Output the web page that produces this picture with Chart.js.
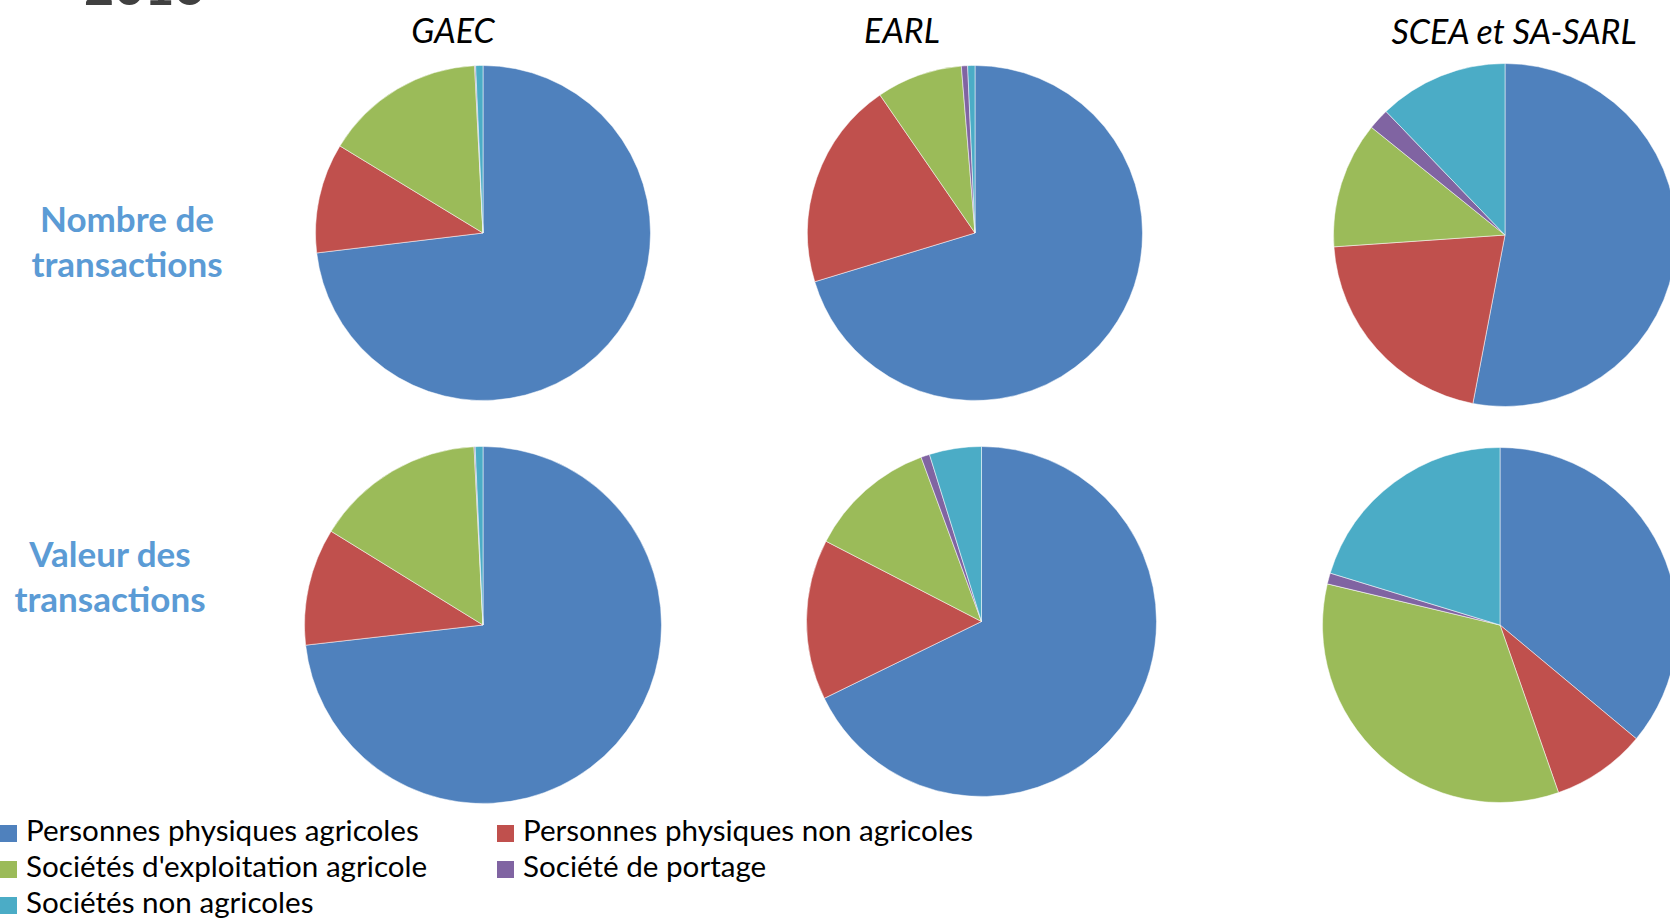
<!DOCTYPE html>
<html lang="fr">
<head>
<meta charset="utf-8">
<script src="https://cdn.jsdelivr.net/npm/chart.js@4.4.1/dist/chart.umd.min.js"></script>
<style>
  html, body { margin: 0; padding: 0; background: #fff; }
  body { width: 1670px; height: 918px; position: relative; overflow: hidden; font-family: Lato, "Open Sans", sans-serif; }
  .abs { position: absolute; white-space: nowrap; }
  .annee { left: 84px; top: -41px; font-weight: bold; font-size: 52px; line-height: 52px; color: #404040; }
  .titre { font-style: italic; font-size: 34px; line-height: 34px; color: #000; transform: translateX(-50%); }
  .ligne { font-weight: bold; font-size: 35px; line-height: 45px; color: #5B9BD5; text-align: center; transform: translateX(-50%); }
  .pie { position: absolute; }
  .leg { position: absolute; font-size: 29.6px; line-height: 36px; color: #000; white-space: nowrap; }
  .leg span { display: inline-block; width: 17px; height: 17px; margin-right: 9px; vertical-align: -1px; }
</style>
</head>
<body>
<div class="abs annee">2016</div>

<div class="abs titre" style="left:453px; top:13px;">GAEC</div>
<div class="abs titre" style="left:902px; top:13px;">EARL</div>
<div class="abs titre" style="left:1514px; top:14px;">SCEA et SA-SARL</div>

<div class="abs ligne" style="left:127px; top:196px;">Nombre de<br>transactions</div>
<div class="abs ligne" style="left:110px; top:531px;">Valeur des<br>transactions</div>

<div class="pie" id="p1"><canvas id="c1"></canvas></div>
<div class="pie" id="p2"><canvas id="c2"></canvas></div>
<div class="pie" id="p3"><canvas id="c3"></canvas></div>
<div class="pie" id="p4"><canvas id="c4"></canvas></div>
<div class="pie" id="p5"><canvas id="c5"></canvas></div>
<div class="pie" id="p6"><canvas id="c6"></canvas></div>

<div id="legende"></div>

<script>
// === DONNÉES ===============================================================
const categories = [
  'Personnes physiques agricoles',
  'Personnes physiques non agricoles',
  "Sociétés d'exploitation agricole",
  'Société de portage',
  'Sociétés non agricoles'
];
const couleurs = ['#4F81BD', '#C0504D', '#9BBB59', '#8064A2', '#4BACC6'];

// parts en %
const nombreGAEC = [73.1, 10.6, 15.5, 0.1, 0.7];
const nombreEARL = [70.3, 20.1, 8.3, 0.6, 0.7];
const nombreSCEA = [53.0, 20.9, 11.9, 2.0, 12.2];
const valeurGAEC = [73.2, 10.6, 15.4, 0.1, 0.7];
const valeurEARL = [67.7, 14.8, 11.8, 0.8, 4.8];
const valeurSCEA = [36.1, 8.6, 34.1, 1.0, 20.3];

// === HELPERS ===============================================================
function placePie(id, cx, cy, r) {
  const el = document.getElementById(id);
  const size = 2 * r + 2;
  el.style.left = (cx - size / 2) + 'px';
  el.style.top = (cy - size / 2) + 'px';
  el.style.width = size + 'px';
  el.style.height = size + 'px';
}

function criaPie(canvasId, valeurs) {
  return new Chart(document.getElementById(canvasId), {
    type: 'pie',
    data: {
      labels: categories,
      datasets: [{
        data: valeurs,
        backgroundColor: couleurs,
        borderColor: 'rgba(255,255,255,0.5)',
        borderWidth: 1
      }]
    },
    options: {
      responsive: true,
      maintainAspectRatio: false,
      animation: false,
      layout: { padding: 0 },
      plugins: {
        legend: { display: false },
        tooltip: { enabled: false }
      }
    }
  });
}

// === CAMEMBERTS ============================================================
placePie('p1', 482.5, 233, 167);
placePie('p2', 974.5, 232.5, 167);
placePie('p3', 1505, 235, 171);
placePie('p4', 483, 625, 178);
placePie('p5', 981.5, 621.5, 174.5);
placePie('p6', 1500, 625, 177);

criaPie('c1', nombreGAEC);
criaPie('c2', nombreEARL);
criaPie('c3', nombreSCEA);
criaPie('c4', valeurGAEC);
criaPie('c5', valeurEARL);
criaPie('c6', valeurSCEA);

// === LÉGENDE ===============================================================
const legende = document.getElementById('legende');
categories.forEach((nom, i) => {
  const item = document.createElement('div');
  item.className = 'leg';
  item.style.left = (i % 2 === 0 ? 0 : 497) + 'px';
  item.style.top = (812 + Math.floor(i / 2) * 36) + 'px';
  item.innerHTML = `<span style="background:${couleurs[i]}"></span>${nom}`;
  legende.appendChild(item);
});
</script>
</body>
</html>
